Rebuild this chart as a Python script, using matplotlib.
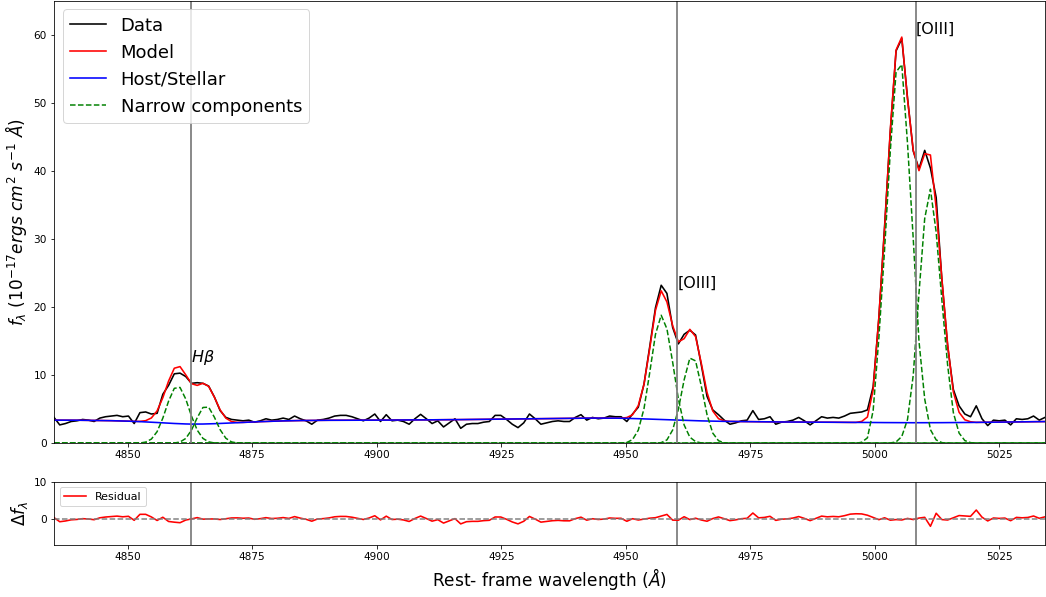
import numpy as np
import matplotlib.pyplot as plt

# rest-frame wavelength grid of the spectrum (Angstrom)
wave = 4835.2 + 1.15 * np.arange(174)

# observed flux (1e-17 erg/s/cm2/A)
flux = [
    3.8, 2.7, 2.9, 3.2, 3.3, 3.5, 3.4, 3.2, 3.7, 3.9,
    4.0, 4.1, 3.9, 4.0, 2.9, 4.5, 4.6, 4.3, 4.4, 7.2,
    8.5, 10.2, 10.3, 9.8, 8.8, 8.9, 8.8, 8.4, 6.8, 4.8,
    3.8, 3.5, 3.4, 3.3, 3.4, 3.1, 3.3, 3.6, 3.4, 3.5,
    3.7, 3.5, 4.0, 3.6, 3.3, 2.8, 3.4, 3.5, 3.7, 4.0,
    4.1, 4.1, 3.9, 3.6, 3.3, 3.7, 4.3, 3.2, 4.2, 3.3,
    3.4, 3.2, 2.8, 3.6, 4.25, 3.6, 2.9, 3.3, 2.4, 3.0,
    3.6, 2.2, 2.8, 2.9, 2.9, 3.1, 3.2, 4.1, 4.1, 3.5,
    2.8, 2.3, 3.0, 4.3, 3.6, 2.8, 3.0, 3.2, 3.3, 3.2,
    3.2, 3.8, 4.2, 3.4, 3.8, 3.6, 3.7, 4.0, 3.9, 3.9,
    3.2, 4.3, 5.3, 8.7, 14.2, 19.9, 23.2, 22.0, 17.0, 14.6,
    16.0, 16.6, 15.9, 11.5, 6.9, 4.9, 4.2, 3.4, 2.8, 3.0,
    3.3, 3.4, 4.8, 3.5, 3.6, 3.9, 2.8, 3.1, 3.2, 3.4,
    3.8, 3.3, 2.7, 3.3, 3.9, 3.7, 3.8, 3.7, 4.0, 4.4,
    4.5, 4.6, 4.9, 8.3, 18.4, 31.9, 45.8, 57.6, 59.4, 50.7,
    42.9, 40.3, 43.0, 40.4, 36.1, 24.0, 14.3, 7.9, 5.5, 4.3,
    3.9, 5.5, 3.6, 2.6, 3.4, 3.3, 3.4, 2.7, 3.6, 3.5,
    3.6, 4.0, 3.4, 3.8,
]

# host / stellar continuum
host = [
    3.40, 3.40, 3.40, 3.39, 3.39, 3.38, 3.37, 3.36, 3.35, 3.34,
    3.32, 3.30, 3.28, 3.25, 3.22, 3.18, 3.14, 3.10, 3.05, 3.00,
    2.95, 2.91, 2.87, 2.84, 2.82, 2.82, 2.83, 2.85, 2.88, 2.91,
    2.95, 2.99, 3.03, 3.07, 3.11, 3.15, 3.18, 3.21, 3.24, 3.27,
    3.29, 3.31, 3.33, 3.34, 3.35, 3.36, 3.37, 3.37, 3.38, 3.38,
    3.38, 3.39, 3.39, 3.39, 3.40, 3.40, 3.40, 3.41, 3.41, 3.41,
    3.42, 3.42, 3.43, 3.43, 3.44, 3.44, 3.45, 3.45, 3.46, 3.47,
    3.47, 3.48, 3.49, 3.50, 3.50, 3.51, 3.52, 3.53, 3.54, 3.55,
    3.56, 3.57, 3.58, 3.59, 3.60, 3.61, 3.62, 3.63, 3.64, 3.65,
    3.66, 3.67, 3.68, 3.69, 3.70, 3.70, 3.70, 3.70, 3.69, 3.68,
    3.66, 3.64, 3.61, 3.58, 3.55, 3.52, 3.48, 3.45, 3.42, 3.39,
    3.36, 3.33, 3.31, 3.29, 3.27, 3.25, 3.24, 3.22, 3.21, 3.20,
    3.19, 3.18, 3.17, 3.16, 3.15, 3.15, 3.14, 3.13, 3.13, 3.12,
    3.12, 3.11, 3.11, 3.10, 3.10, 3.09, 3.09, 3.08, 3.08, 3.07,
    3.07, 3.06, 3.06, 3.05, 3.05, 3.04, 3.04, 3.03, 3.03, 3.02,
    3.02, 3.02, 3.02, 3.02, 3.03, 3.03, 3.04, 3.04, 3.05, 3.05,
    3.06, 3.07, 3.08, 3.09, 3.10, 3.11, 3.12, 3.13, 3.14, 3.15,
    3.16, 3.17, 3.18, 3.19,
]

# narrow components: (first grid index, values)
narrow = [
    (15, [0.04, 0.18, 0.62, 1.71, 3.70, 6.18, 8.07, 8.2, 6.5, 4.0, 1.93, 0.72, 0.21, 0.05]),
    (21, [0.04, 0.19, 0.71, 1.93, 3.75, 5.26, 5.3, 3.83, 2.0, 0.74, 0.2, 0.04]),
    (100, [0.12, 0.55, 1.93, 5.1, 10.4, 16.0, 18.8, 16.8, 11.9, 6.5, 2.7, 0.9, 0.25, 0.05]),
    (106, [0.1, 0.5, 1.95, 5.0, 9.3, 12.5, 12.1, 8.4, 4.2, 1.5, 0.38, 0.07]),
    (141, [0.15, 0.8, 4.8, 15.5, 28.5, 43.0, 54.5, 55.6, 44.0, 30.0, 15.0, 6.5, 2.0, 0.5, 0.1]),
    (146, [0.05, 0.2, 1.0, 3.5, 10.0, 22.0, 33.0, 37.3, 31.0, 21.0, 11.5, 4.5, 1.5, 0.4, 0.1]),
]

lines = [4862.68, 4960.30, 5008.24]
line_names = [r"$H\beta$", "[OIII]", "[OIII]"]

flux = np.array(flux)
host = np.array(host)
comps = []
for start, vals in narrow:
    c = np.zeros(len(wave))
    c[start:start + len(vals)] = vals
    comps.append(c)
model = host + np.sum(comps, axis=0)
resid = flux - model

fig = plt.figure(figsize=(1046 / 72, 597 / 72), dpi=72)
ax = fig.add_axes([54 / 1046, 1 - 443.3 / 597, 991 / 1046, 442.8 / 597])
axr = fig.add_axes([54 / 1046, 1 - 545.3 / 597, 991 / 1046, 63.6 / 597])

ax.plot(wave, flux, color="k", lw=1.6, label="Data")
ax.plot(wave, model, color="r", lw=1.6, label="Model")
ax.plot(wave, host, color="b", lw=1.6, label="Host/Stellar")
for i, c in enumerate(comps):
    ax.plot(wave, c, "g--", lw=1.5, label="Narrow components" if i == 0 else None)

for lam, name in zip(lines, line_names):
    ax.axvline(lam, color="gray", lw=1.8)
    axr.axvline(lam, color="gray", lw=1.8)
    near = np.abs(wave - lam) < 5
    ax.text(lam, model[near].max(), name, fontsize=16, ha="left", va="bottom")

ax.set_xlim(wave[0], wave[-1])
ax.set_ylim(0, 65)
ax.tick_params(labelsize=10.5)
ax.set_ylabel(r"$f_{\lambda}$ ($10^{-17} ergs\ cm^2\ s^{-1}\ \AA$)", fontsize=17)
ax.legend(loc="upper left", fontsize=18)

axr.plot(wave, resid, color="r", lw=1.6, label="Residual")
axr.axhline(0, color="gray", ls="--", lw=1.5)
axr.set_xlim(wave[0], wave[-1])
axr.set_ylim(-7, 10)
axr.set_yticks([0, 10])
axr.tick_params(labelsize=10.5)
axr.set_ylabel(r"$\Delta f_{\lambda}$", fontsize=17)
axr.set_xlabel(r"Rest- frame wavelength ($\AA$)", fontsize=17)
axr.legend(loc="upper left", fontsize=11)

fig.savefig("out.png", dpi=72)
